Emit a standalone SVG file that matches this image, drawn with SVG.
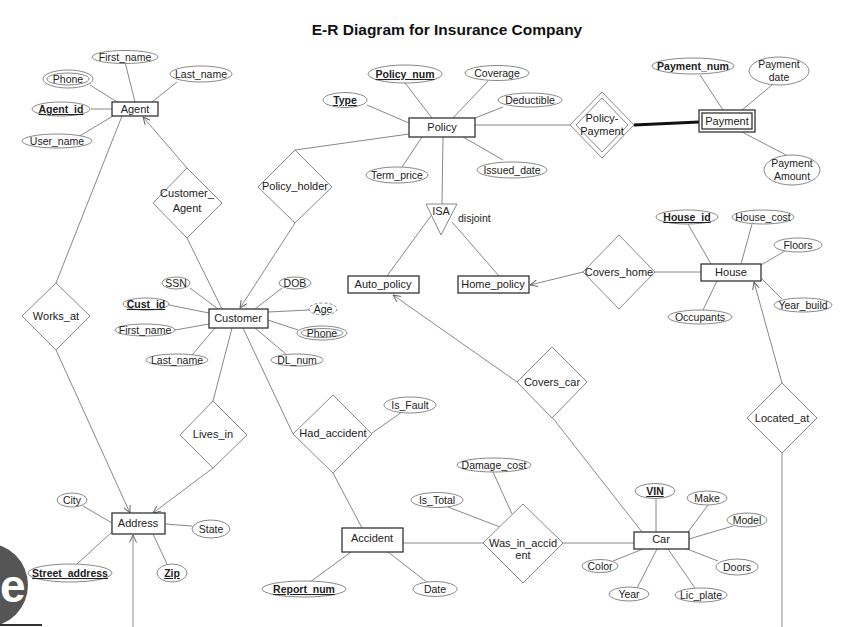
<svg xmlns="http://www.w3.org/2000/svg" width="861" height="627" viewBox="0 0 861 627">
<defs>
<marker id="arr" viewBox="0 0 8 8" refX="7.5" refY="4" markerWidth="8" markerHeight="8" markerUnits="userSpaceOnUse" orient="auto">
<path d="M0,0.5 L7.5,4 L0,7.5" fill="none" stroke="#666" stroke-width="1"/>
</marker>
<style>
text{font-family:"Liberation Sans",Arial,sans-serif;font-size:11px;fill:#222;text-anchor:middle}
.attr text{font-size:10.5px}
.title{font-size:15.5px;font-weight:bold;fill:#111}
.key{font-weight:bold;text-decoration:underline}
.bold{font-weight:bold}
.ent rect{fill:#fff;stroke:#333;stroke-width:1.3}
.attr ellipse{fill:#fff;stroke:#888;stroke-width:1}
.rel polygon{fill:#fff;stroke:#888;stroke-width:1}
#connectors line{stroke:#888;stroke-width:1}
.ar{marker-end:url(#arr)}
</style>
</defs>
<rect width="861" height="627" fill="#fff"/>
<text class="title" x="447" y="35">E-R Diagram for Insurance Company</text>

<g id="connectors">
<!-- Agent -->
<line x1="125" y1="62" x2="135" y2="102"/>
<line x1="177" y1="82" x2="152" y2="102"/>
<line x1="90" y1="85" x2="117" y2="102"/>
<line x1="91" y1="109" x2="112" y2="109"/>
<line x1="78" y1="137" x2="113" y2="116"/>
<line x1="122" y1="116" x2="56" y2="283"/>
<line class="ar" x1="187" y1="168" x2="143" y2="117"/>
<line x1="187" y1="238" x2="222" y2="309"/>
<!-- Policy -->
<line x1="405" y1="83" x2="432" y2="118"/>
<line x1="488" y1="81" x2="453" y2="118"/>
<line x1="367" y1="105" x2="409" y2="123"/>
<line x1="503" y1="107" x2="475" y2="118"/>
<line x1="402" y1="167" x2="422" y2="137"/>
<line x1="503" y1="160" x2="463" y2="137"/>
<line x1="409" y1="134" x2="295" y2="150"/>
<line x1="443" y1="137" x2="442" y2="204"/>
<line x1="475" y1="125" x2="570" y2="125"/>
<line x1="634" y1="125" x2="699" y2="122" style="stroke:#111;stroke-width:3"/>
<!-- Payment -->
<line x1="700" y1="75" x2="723" y2="110"/>
<line x1="772" y1="85" x2="742" y2="110"/>
<line x1="788" y1="156" x2="742" y2="132"/>
<!-- Customer -->
<line class="ar" x1="295" y1="223" x2="240" y2="308"/>
<line x1="190" y1="288" x2="218" y2="309"/>
<line x1="169" y1="305" x2="209" y2="313"/>
<line x1="175" y1="330" x2="209" y2="324"/>
<line x1="192" y1="355" x2="215" y2="328"/>
<line x1="282" y1="288" x2="255" y2="309"/>
<line x1="309" y1="310" x2="268" y2="312"/>
<line x1="298" y1="330" x2="268" y2="320"/>
<line x1="287" y1="355" x2="255" y2="328"/>
<line x1="232" y1="328" x2="213" y2="401"/>
<line x1="243" y1="328" x2="293" y2="434"/>
<!-- ISA -->
<line x1="433" y1="213" x2="387" y2="276"/>
<line x1="452" y1="222" x2="499" y2="276"/>
<!-- House -->
<line class="ar" x1="583" y1="272" x2="530" y2="285"/>
<line x1="655" y1="272" x2="701" y2="272"/>
<line x1="688" y1="224" x2="711" y2="264"/>
<line x1="752" y1="224" x2="741" y2="264"/>
<line x1="785" y1="251" x2="761" y2="265"/>
<line x1="782" y1="299" x2="761" y2="278"/>
<line x1="703" y1="310" x2="717" y2="281"/>
<line class="ar" x1="782" y1="383" x2="754" y2="282"/>
<line x1="782" y1="453" x2="782" y2="627"/>
<!-- Address -->
<line class="ar" x1="56" y1="350" x2="130" y2="513"/>
<line class="ar" x1="213" y1="468" x2="153" y2="513"/>
<line x1="83" y1="506" x2="112" y2="523"/>
<line x1="192" y1="526" x2="165" y2="524"/>
<line x1="77" y1="564" x2="112" y2="532"/>
<line x1="167" y1="564" x2="153" y2="534"/>
<line class="ar" x1="133" y1="627" x2="133" y2="535"/>
<!-- Accident -->
<line x1="372" y1="433" x2="402" y2="412"/>
<line x1="333" y1="473" x2="362" y2="528"/>
<line x1="310" y1="582" x2="351" y2="552"/>
<line x1="428" y1="583" x2="388" y2="552"/>
<line x1="403" y1="543" x2="483" y2="543"/>
<line x1="493" y1="472" x2="512" y2="514"/>
<line x1="448" y1="507" x2="500" y2="527"/>
<line x1="563" y1="543" x2="634" y2="543"/>
<!-- Car -->
<line class="ar" x1="517" y1="382" x2="393" y2="295"/>
<line x1="552" y1="417" x2="642" y2="532"/>
<line x1="656" y1="499" x2="656" y2="532"/>
<line x1="708" y1="505" x2="688" y2="532"/>
<line x1="733" y1="526" x2="689" y2="539"/>
<line x1="613" y1="561" x2="643" y2="549"/>
<line x1="718" y1="561" x2="687" y2="549"/>
<line x1="637" y1="588" x2="657" y2="549"/>
<line x1="695" y1="588" x2="668" y2="549"/>
</g>

<!-- Entities -->
<g id="agent" class="ent"><rect x="112" y="102" width="46" height="14"/><text x="135" y="113">Agent</text></g>
<g id="policy" class="ent"><rect x="409" y="118" width="66" height="19"/><text x="442" y="131">Policy</text></g>
<g id="payment" class="ent"><rect x="699" y="110" width="56" height="22"/><rect x="702" y="113" width="50" height="16"/><text x="727" y="125">Payment</text></g>
<g id="customer" class="ent"><rect x="209" y="309" width="59" height="19"/><text x="238" y="322">Customer</text></g>
<g id="auto_policy" class="ent"><rect x="348" y="276" width="71" height="17"/><text x="383" y="288">Auto_policy</text></g>
<g id="home_policy" class="ent"><rect x="458" y="276" width="71" height="17"/><text x="493" y="288">Home_policy</text></g>
<g id="house" class="ent"><rect x="701" y="264" width="60" height="17"/><text x="731" y="276">House</text></g>
<g id="address" class="ent"><rect x="112" y="513" width="53" height="21"/><text x="138" y="527">Address</text></g>
<g id="accident" class="ent"><rect x="342" y="528" width="61" height="24"/><text x="372" y="542">Accident</text></g>
<g id="car" class="ent"><rect x="634" y="532" width="55" height="17"/><text x="661" y="543">Car</text></g>

<!-- ISA -->
<g id="isa" class="rel"><polygon points="426,204 457,204 441,235"/><text x="441" y="215">ISA</text><text x="458" y="222" style="text-anchor:start;font-size:10.5px">disjoint</text></g>

<!-- Relationships -->
<g id="customer_agent" class="rel"><polygon points="153,203 187,168 222,203 187,238"/><text x="187" y="197">Customer_</text><text x="187" y="212">Agent</text></g>
<g id="policy_holder" class="rel"><polygon points="258,187 295,150 332,187 295,223"/><text x="295" y="190">Policy_holder</text></g>
<g id="policy_payment" class="rel"><polygon points="570,125 602,92 634,125 602,158"/><polygon points="576,125 602,98 628,125 602,152"/><text x="602" y="122">Policy-</text><text x="602" y="135">Payment</text></g>
<g id="covers_home" class="rel"><polygon points="583,272 619,235 655,272 619,309"/><text x="619" y="276">Covers_home</text></g>
<g id="works_at" class="rel"><polygon points="22,316 56,283 90,316 56,350"/><text x="56" y="320">Works_at</text></g>
<g id="covers_car" class="rel"><polygon points="517,382 552,347 587,382 552,418"/><text x="552" y="386">Covers_car</text></g>
<g id="located_at" class="rel"><polygon points="747,418 782,383 817,418 782,453"/><text x="782" y="422">Located_at</text></g>
<g id="lives_in" class="rel"><polygon points="180,435 213,401 247,435 213,468"/><text x="213" y="438">Lives_in</text></g>
<g id="had_accident" class="rel"><polygon points="293,434 333,395 372,434 333,473"/><text x="333" y="437">Had_accident</text></g>
<g id="was_in_accident" class="rel"><polygon points="483,543 523,504 563,543 523,583"/><text x="523" y="547">Was_in_accid</text><text x="523" y="559">ent</text></g>

<!-- Attributes -->
<g id="a_first_name" class="attr"><ellipse cx="125" cy="57" rx="33" ry="6.5"/><text x="125" y="61">First_name</text></g>
<g id="a_last_name" class="attr"><ellipse cx="201" cy="74" rx="31" ry="8"/><text x="201" y="78">Last_name</text></g>
<g id="a_phone" class="attr"><ellipse cx="68" cy="79" rx="25" ry="9"/><ellipse cx="68" cy="79" rx="21" ry="6"/><text x="68" y="83">Phone</text></g>
<g id="a_agent_id" class="attr"><ellipse cx="61" cy="109" rx="29" ry="7"/><text class="key" x="61" y="113">Agent_id</text></g>
<g id="a_user_name" class="attr"><ellipse cx="57" cy="141" rx="35" ry="7"/><text x="57" y="145">User_name</text></g>

<g id="a_policy_num" class="attr"><ellipse cx="405" cy="74" rx="37" ry="9"/><text class="key" x="405" y="78">Policy_num</text></g>
<g id="a_coverage" class="attr"><ellipse cx="497" cy="73" rx="32" ry="7.5"/><text x="497" y="77">Coverage</text></g>
<g id="a_type" class="attr"><ellipse cx="345" cy="100" rx="22" ry="7.5"/><text class="key" x="345" y="104">Type</text></g>
<g id="a_deductible" class="attr"><ellipse cx="530" cy="100" rx="32" ry="7"/><text x="530" y="104">Deductible</text></g>
<g id="a_term_price" class="attr"><ellipse cx="397" cy="175" rx="31" ry="8"/><text x="397" y="179">Term_price</text></g>
<g id="a_issued_date" class="attr"><ellipse cx="512" cy="170" rx="35" ry="8"/><text x="512" y="174">Issued_date</text></g>

<g id="a_payment_num" class="attr"><ellipse cx="693" cy="66" rx="41" ry="8"/><text class="bold" x="693" y="70">Payment_num</text></g>
<g id="a_payment_date" class="attr"><ellipse cx="779" cy="71" rx="30" ry="14"/><text x="779" y="68">Payment</text><text x="779" y="81">date</text></g>
<g id="a_payment_amount" class="attr"><ellipse cx="792" cy="170" rx="28" ry="15"/><text x="792" y="167">Payment</text><text x="792" y="180">Amount</text></g>

<g id="a_ssn" class="attr"><ellipse cx="176" cy="283" rx="14" ry="6"/><text x="176" y="287">SSN</text></g>
<g id="a_cust_id" class="attr"><ellipse cx="146" cy="304" rx="23" ry="6"/><text class="key" x="146" y="308">Cust_id</text></g>
<g id="a_c_first_name" class="attr"><ellipse cx="145" cy="330" rx="30" ry="6"/><text x="145" y="334">First_name</text></g>
<g id="a_c_last_name" class="attr"><ellipse cx="177" cy="360" rx="31" ry="6"/><text x="177" y="364">Last_name</text></g>
<g id="a_dob" class="attr"><ellipse cx="295" cy="283" rx="16" ry="6"/><text x="295" y="287">DOB</text></g>
<g id="a_age" class="attr"><ellipse cx="323" cy="309" rx="14" ry="6" stroke-dasharray="3,2"/><text x="323" y="313">Age</text></g>
<g id="a_c_phone" class="attr"><ellipse cx="322" cy="333" rx="25" ry="7"/><ellipse cx="322" cy="333" rx="21" ry="4.5"/><text x="322" y="337">Phone</text></g>
<g id="a_dl_num" class="attr"><ellipse cx="297" cy="360" rx="26" ry="6"/><text x="297" y="364">DL_num</text></g>

<g id="a_house_id" class="attr"><ellipse cx="687" cy="217" rx="31" ry="7"/><text class="key" x="687" y="221">House_id</text></g>
<g id="a_house_cost" class="attr"><ellipse cx="763" cy="217" rx="31" ry="7"/><text x="763" y="221">House_cost</text></g>
<g id="a_floors" class="attr"><ellipse cx="798" cy="245" rx="24" ry="7"/><text x="798" y="249">Floors</text></g>
<g id="a_year_build" class="attr"><ellipse cx="803" cy="305" rx="29" ry="7"/><text x="803" y="309">Year_build</text></g>
<g id="a_occupants" class="attr"><ellipse cx="700" cy="317" rx="32" ry="7"/><text x="700" y="321">Occupants</text></g>

<g id="a_city" class="attr"><ellipse cx="72" cy="500" rx="15" ry="7"/><text x="72" y="504">City</text></g>
<g id="a_state" class="attr"><ellipse cx="211" cy="529" rx="19" ry="9"/><text x="211" y="533">State</text></g>
<g id="a_street_address" class="attr"><ellipse cx="70" cy="573" rx="42" ry="9"/><text class="key" x="70" y="577">Street_address</text></g>
<g id="a_zip" class="attr"><ellipse cx="172" cy="573" rx="15" ry="9"/><text class="key" x="172" y="577">Zip</text></g>

<g id="a_is_fault" class="attr"><ellipse cx="410" cy="405" rx="26" ry="8"/><text x="410" y="409">Is_Fault</text></g>
<g id="a_damage_cost" class="attr"><ellipse cx="494" cy="465" rx="37" ry="7"/><text x="494" y="469">Damage_cost</text></g>
<g id="a_is_total" class="attr"><ellipse cx="437" cy="500" rx="26" ry="7.5"/><text x="437" y="504">Is_Total</text></g>
<g id="a_report_num" class="attr"><ellipse cx="304" cy="589" rx="42" ry="8"/><text class="key" x="304" y="593">Report_num</text></g>
<g id="a_date" class="attr"><ellipse cx="435" cy="589" rx="22" ry="7.5"/><text x="435" y="593">Date</text></g>

<g id="a_vin" class="attr"><ellipse cx="655" cy="491" rx="20" ry="7.5"/><text class="key" x="655" y="495">VIN</text></g>
<g id="a_make" class="attr"><ellipse cx="707" cy="498" rx="20" ry="7"/><text x="707" y="502">Make</text></g>
<g id="a_model" class="attr"><ellipse cx="747" cy="520" rx="20" ry="7"/><text x="747" y="524">Model</text></g>
<g id="a_color" class="attr"><ellipse cx="600" cy="566" rx="18" ry="6.5"/><text x="600" y="570">Color</text></g>
<g id="a_doors" class="attr"><ellipse cx="737" cy="567" rx="21" ry="8"/><text x="737" y="571">Doors</text></g>
<g id="a_year" class="attr"><ellipse cx="629" cy="594" rx="20" ry="7"/><text x="629" y="598">Year</text></g>
<g id="a_lic_plate" class="attr"><ellipse cx="701" cy="595" rx="26" ry="7"/><text x="701" y="599">Lic_plate</text></g>

<!-- corner logo -->
<g id="logo">
<circle cx="-14" cy="585" r="42" fill="#555"/>
<text x="0" y="602" style="font-size:46px;font-weight:bold;fill:#fff;text-anchor:start">e</text>
<line x1="0" y1="625" x2="42" y2="625" stroke="#333" stroke-width="2"/>
</g>
</svg>
